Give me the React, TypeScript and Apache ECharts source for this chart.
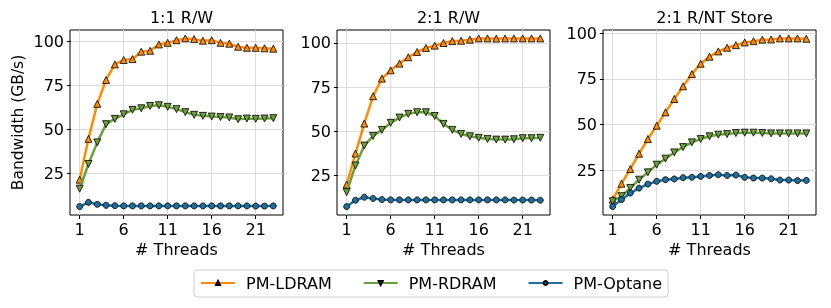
import React, { useEffect, useRef } from "react";
import * as echarts from "echarts";

const threads = [1, 2, 3, 4, 5, 6, 7, 8, 9, 10, 11, 12, 13, 14, 15, 16, 17, 18, 19, 20, 21, 22, 23];
const xTicks = [1, 6, 11, 16, 21];
const yTicks = [25, 50, 75, 100];
const panelTitles = ["1:1 R/W", "2:1 R/W", "2:1 R/NT Store"];
const seriesNames = ["PM-LDRAM", "PM-RDRAM", "PM-Optane"];

// 1:1 R/W
const rw11Ldram = [21.6, 44.7, 64.5, 78, 86.8, 89.3, 89.8, 94, 94.5, 98.1, 99, 100.5, 101.5, 101.1, 100.2, 100.5, 99, 98.5, 96.8, 96.2, 96.2, 95.9, 95.7];
const rw11Rdram = [16.5, 30.5, 42.7, 53, 56, 58.6, 61.1, 62, 63.3, 63.7, 62.8, 61.5, 59.8, 58.3, 57.7, 57.3, 57, 56.8, 55.8, 56.2, 56, 56.2, 56.4];
const rw11Optane = [6.4, 8.8, 7.7, 7.1, 6.9, 6.8, 6.8, 6.8, 6.8, 6.8, 6.8, 6.8, 6.8, 6.8, 6.8, 6.8, 6.8, 6.8, 6.8, 6.8, 6.7, 6.7, 6.8];

// 2:1 R/W
const rw21Ldram = [19.7, 37.3, 54.3, 69.8, 79.8, 84.5, 88.3, 91.9, 94.9, 97.2, 98.5, 100, 101.1, 101.3, 101.9, 102.6, 102.6, 102.5, 102.6, 102.6, 102.6, 102.6, 102.6];
const rw21Rdram = [15.4, 30.5, 41.8, 47.3, 50.7, 54.7, 57.7, 59.8, 60.7, 60.7, 58.6, 54.1, 50.7, 48.4, 47.1, 46.2, 45.6, 45.2, 45.2, 45.4, 46, 46, 46.2];
const rw21Optane = [7.2, 10.8, 12.5, 11.8, 11.2, 11, 11, 11, 11, 11, 11, 11, 11, 11, 11, 11, 11, 11, 11, 10.9, 10.9, 10.9, 10.8];

// 2:1 R/NT Store
const ntLdram = [9, 17.7, 25.7, 34.1, 42.1, 49.4, 56.7, 64, 70.9, 77.6, 83.3, 87.1, 90, 92, 93.4, 94.9, 95.6, 96.4, 96.5, 97.1, 97.1, 97.1, 96.9];
const ntRdram = [8.1, 10.9, 15.4, 19.9, 23.9, 28.1, 31.4, 34.8, 37.7, 40.3, 42.1, 43.6, 44.5, 44.8, 45.4, 45.6, 45.6, 45.4, 45.2, 45.2, 45.2, 45.2, 45.2];
const ntOptane = [5.2, 9, 12.6, 15.3, 17.5, 19, 19.9, 20.3, 21, 21.2, 21.7, 22.2, 22.6, 22.2, 22.4, 21.2, 20.8, 20.8, 20.4, 19.7, 19.7, 19.4, 19.5];

const panels = [
  [rw11Ldram, rw11Rdram, rw11Optane],
  [rw21Ldram, rw21Rdram, rw21Optane],
  [ntLdram, ntRdram, ntOptane],
];

const colors = ["#ff8c00", "#6d9f3c", "#1f6e9c"];
const symbols = ["triangle", "triangle", "circle"];
const rotations = [0, 180, 0];
const symbolSizes = [7, 7, 6];

const FONT = "DejaVu Sans";
const FS = 16;
const gridLefts = [70, 337, 603];
const gridWidth = 213;

export default function App() {
  const ref = useRef<HTMLDivElement>(null);
  useEffect(() => {
    if (!ref.current) return;
    const chart = echarts.init(ref.current, undefined, { renderer: "svg" });

    const grids = gridLefts.map((l) => ({
      left: l,
      top: 30,
      width: gridWidth,
      height: 185,
      show: true,
      borderColor: "#000",
      borderWidth: 1,
      backgroundColor: "transparent",
      containLabel: false,
    }));

    const xAxes = gridLefts.map((_, i) => ({
      type: "value",
      gridIndex: i,
      min: -0.1,
      max: 24.1,
      name: "# Threads",
      nameLocation: "middle",
      nameGap: 25,
      nameTextStyle: { fontFamily: FONT, fontSize: FS, color: "#000" },
      axisLine: { show: false },
      axisTick: { show: true, length: 4, inside: false, customValues: xTicks, lineStyle: { color: "#000" } },
      axisLabel: { customValues: xTicks, fontFamily: FONT, fontSize: FS, color: "#000", margin: 6 },
      splitLine: { show: true, lineStyle: { color: "#dcdcdc", width: 1 } },
    }));

    const yAxes = panels.map((p, i) => {
      const all = p.flat();
      const lo = Math.min(...all);
      const hi = Math.max(...all);
      const m = (hi - lo) * 0.05;
      return {
        type: "value",
        gridIndex: i,
        min: lo - m,
        max: hi + m,
        name: i === 0 ? "Bandwidth (GB/s)" : "",
        nameLocation: "middle",
        nameRotate: 90,
        nameGap: 44,
        nameTextStyle: { fontFamily: FONT, fontSize: 15.5, color: "#000" },
        axisLine: { show: false },
        axisTick: { show: true, length: 4, inside: false, customValues: yTicks, lineStyle: { color: "#000" } },
        axisLabel: { customValues: yTicks, fontFamily: FONT, fontSize: FS, color: "#000", margin: 6 },
        splitLine: { show: true, lineStyle: { color: "#dcdcdc", width: 1 } },
      };
    });

    const series: any[] = [];
    panels.forEach((p, pi) => {
      p.forEach((vals, si) => {
        series.push({
          type: "line",
          name: seriesNames[si],
          xAxisIndex: pi,
          yAxisIndex: pi,
          data: threads.map((t, k) => [t, vals[k]]),
          symbol: symbols[si],
          symbolSize: symbolSizes[si],
          symbolRotate: rotations[si],
          showAllSymbol: true,
          color: colors[si],
          lineStyle: { color: colors[si], width: 2.5 },
          itemStyle: { color: colors[si], borderColor: "#000", borderWidth: 0.8 },
          z: 2 + si,
        });
      });
    });

    const titles = panelTitles.map((t, i) => ({
      text: t,
      left: gridLefts[i] + gridWidth / 2,
      top: 4,
      textAlign: "center",
      textStyle: { fontFamily: FONT, fontSize: FS, fontWeight: "normal", color: "#000" },
    }));

    chart.setOption({
      animation: false,
      title: titles,
      grid: grids,
      xAxis: xAxes,
      yAxis: yAxes,
      legend: {
        data: seriesNames,
        left: 194,
        top: 270,
        itemWidth: 34,
        itemHeight: 5,
        itemGap: 31,
        padding: [5, 6, 6, 6],
        borderColor: "#cccccc",
        borderWidth: 1,
        borderRadius: 3,
        textStyle: { fontFamily: FONT, fontSize: FS, color: "#000", padding: [0, 0, 0, 6] },
      },
      series,
    });
    return () => chart.dispose();
  }, []);
  return <div ref={ref} style={{ position: "fixed", left: 0, top: 0, width: 831, height: 308 }} />;
}
